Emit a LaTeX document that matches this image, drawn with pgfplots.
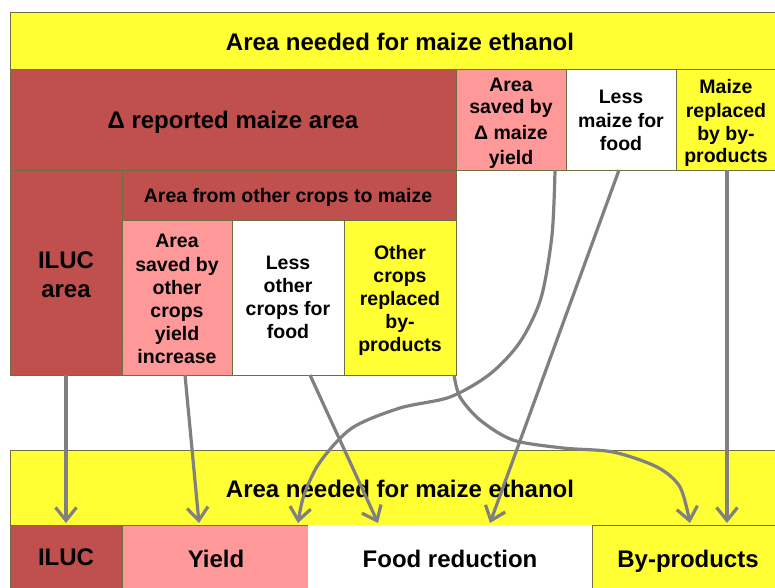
\documentclass[border=0pt]{standalone}
\usepackage{pgfplots}
\pgfplotsset{compat=1.18}
\usepackage{fontspec}
\setmainfont{Liberation Sans}
\usetikzlibrary{arrows.meta}
\definecolor{dred}{HTML}{C0504D}
\definecolor{pink}{HTML}{FF9999}
\definecolor{yel}{HTML}{FFFF33}
\definecolor{agray}{HTML}{808080}
\definecolor{bd}{HTML}{6E6E40}
\newcommand{\bx}[5]{\addplot[fill=#5, draw=bd, line width=1pt] coordinates {(#1,#2) (#3,#2) (#3,#4) (#1,#4)} -- cycle;}
\newcommand{\lb}[3]{\node[anchor=base, inner sep=0pt, font=\bfseries\fontsize{19.5}{23}\selectfont] at (axis cs:#1,#2) {#3};}
\newcommand{\LB}[3]{\node[anchor=base, inner sep=0pt, font=\bfseries\fontsize{24}{28}\selectfont] at (axis cs:#1,#2) {#3};}
\begin{document}
\begin{tikzpicture}
\begin{axis}[
  scale only axis, width=775pt, height=587pt,
  xmin=0, xmax=775, ymin=0, ymax=587, y dir=reverse,
  axis lines=none, clip=true,
]
\addplot[fill=white, draw=none] coordinates {(0,0) (775,0) (775,587) (0,587)} -- cycle;
% top band
\bx{10}{12}{790}{69}{yel}
% row 2
\bx{10}{69}{456}{170}{dred}
\bx{456}{69}{566}{170}{pink}
\bx{566}{69}{676}{170}{white}
\bx{676}{69}{790}{170}{yel}
% row 3
\bx{10}{170}{122}{375}{dred}
\bx{122}{170}{456}{220}{dred}
\bx{122}{220}{232}{375}{pink}
\bx{232}{220}{344}{375}{white}
\bx{344}{220}{456}{375}{yel}
% bottom band
\bx{10}{450}{790}{525}{yel}
\bx{10}{525}{122}{600}{dred}
\bx{122}{525}{308}{600}{pink}
\addplot[fill=white, draw=none] coordinates {(308,525) (592,525) (592,600) (308,600)} -- cycle;
\bx{592}{525}{790}{600}{yel}
\LB{400}{497}{Area needed for maize ethanol}
% arrows
\addplot[agray, line width=3.2pt, -{Straight Barb[length=13pt,width=21pt]}] coordinates {(66,375) (66,523)};
\addplot[agray, line width=3.2pt, -{Straight Barb[length=13pt,width=21pt]}] coordinates {(185,375) (199,523)};
\addplot[agray, line width=3.2pt, -{Straight Barb[length=13pt,width=21pt]}] coordinates {(310,375) (378,523)};
\addplot[agray, line width=3.2pt, smooth, -{Straight Barb[length=13pt,width=21pt]}] coordinates {(555,170) (552,235) (541,298) (520,342) (490,374) (450,397) (400,408) (352,428) (320,462) (304,495) (298,523)};
\addplot[agray, line width=3.2pt, -{Straight Barb[length=13pt,width=21pt]}] coordinates {(619,170) (490,523)};
\addplot[agray, line width=3.2pt, smooth, -{Straight Barb[length=13pt,width=21pt]}] coordinates {(454,375) (460,397) (480,420) (513,440) (563,448) (613,452) (657,467) (680,487) (690,523)};
\addplot[agray, line width=3.2pt, -{Straight Barb[length=13pt,width=21pt]}] coordinates {(727,170) (727,523)};
% texts
\LB{400}{50}{Area needed for maize ethanol}
\LB{233}{128}{Δ reported maize area}
\lb{511}{91}{Area}
\lb{511}{113}{saved by}
\lb{511}{139}{Δ maize}
\lb{511}{164}{yield}
\lb{621}{103}{Less}
\lb{621}{127}{maize for}
\lb{621}{150}{food}
\lb{726}{93}{Maize}
\lb{726}{117}{replaced}
\lb{726}{140}{by by-}
\lb{726}{162}{products}
\lb{288}{202}{Area from other crops to maize}
\LB{66}{268}{ILUC}
\LB{66}{297}{area}
\lb{177}{247}{Area}
\lb{177}{271}{saved by}
\lb{177}{294}{other}
\lb{177}{317}{crops}
\lb{177}{340}{yield}
\lb{177}{363}{increase}
\lb{288}{269}{Less}
\lb{288}{292}{other}
\lb{288}{315}{crops for}
\lb{288}{338}{food}
\lb{400}{259}{Other}
\lb{400}{282}{crops}
\lb{400}{305}{replaced}
\lb{400}{328}{by-}
\lb{400}{351}{products}
\LB{66}{565}{ILUC}
\LB{216}{567}{Yield}
\LB{450}{567}{Food reduction}
\LB{688}{567}{By-products}
\end{axis}
\end{tikzpicture}
\end{document}
